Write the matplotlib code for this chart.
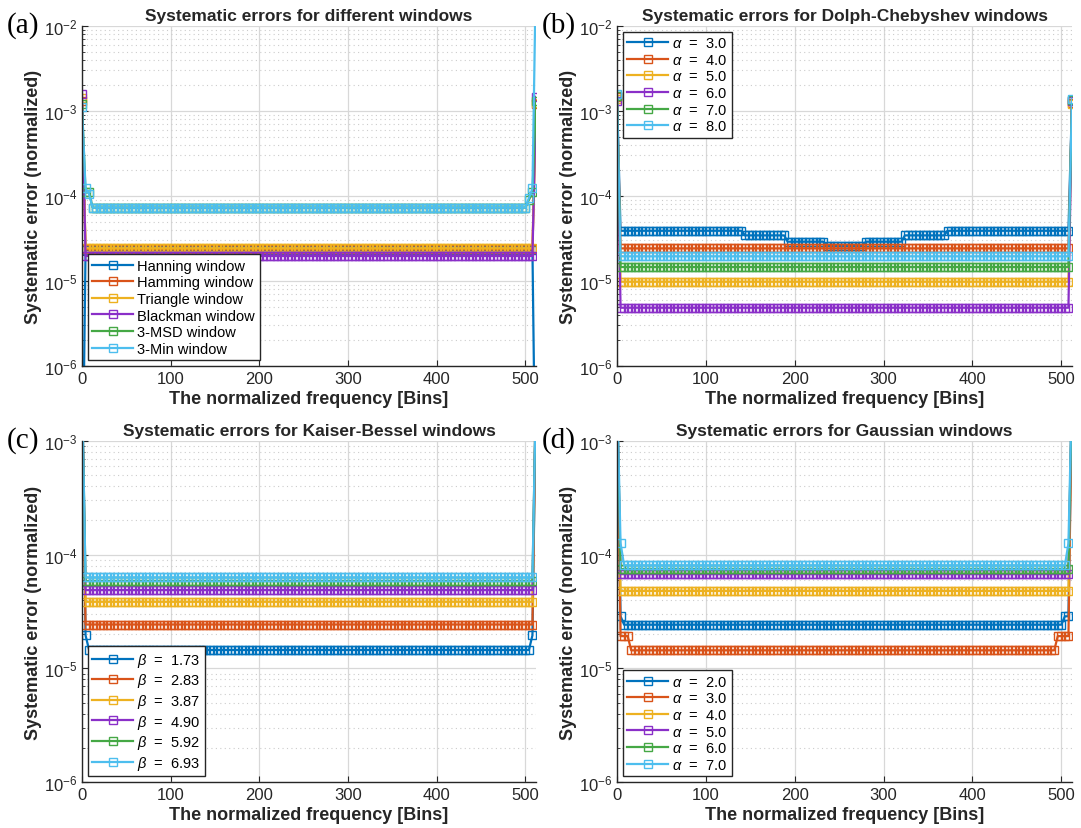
import numpy as np
import matplotlib
matplotlib.use('Agg')
import matplotlib.pyplot as plt
from matplotlib.ticker import LogLocator, NullFormatter

plt.rcParams['font.family'] = ['Liberation Sans', 'DejaVu Sans']
plt.rcParams['mathtext.fontset'] = 'custom'
plt.rcParams['mathtext.rm'] = 'Liberation Sans'
plt.rcParams['mathtext.it'] = 'Liberation Sans:italic'

# frequency bins (sampled every 4 bins)
bins = np.arange(0, 513, 4)

# each series: list of (start bin, value), value holds until next start
a_labels = ['Hanning window', 'Hamming window', 'Triangle window',
            'Blackman window', '3-MSD window', '3-Min window']
a_hanning = [(0, 1e-8), (4, 2.3e-5), (512, 1e-8)]
a_hamming = [(0, 1.3e-3), (4, 2.35e-5), (512, 1.2e-3)]
a_triangle = [(0, 1.43e-3), (4, 2.42e-5), (512, 1.25e-3)]
a_blackman = [(0, 1.6e-3), (4, 1.97e-5), (512, 1.47e-3)]
a_msd = [(0, 1.2e-3), (4, 1.1e-4), (12, 7.3e-5), (504, 9e-5), (508, 1.1e-4), (512, 1.3e-3)]
a_min = [(0, 1.11e-3), (4, 1.23e-4), (8, 1.05e-4), (12, 7.3e-5), (504, 9.5e-5), (508, 1.23e-4), (512, 5e-2)]

b_labels = [r'$\alpha$  =  3.0', r'$\alpha$  =  4.0', r'$\alpha$  =  5.0',
            r'$\alpha$  =  6.0', r'$\alpha$  =  7.0', r'$\alpha$  =  8.0']
b_a3 = [(0, 1.5e-3), (4, 3.9e-5), (144, 3.44e-5), (192, 2.9e-5), (236, 2.57e-5),
        (280, 2.9e-5), (324, 3.44e-5), (372, 3.9e-5), (512, 1.3e-3)]
b_a4 = [(0, 1.45e-3), (4, 2.42e-5), (512, 1.25e-3)]
b_a5 = [(0, 1.4e-3), (4, 9.8e-6), (512, 1.2e-3)]
b_a6 = [(0, 1.3e-3), (4, 4.85e-6), (512, 1.3e-3)]
b_a7 = [(0, 1.5e-3), (4, 1.46e-5), (512, 1.35e-3)]
b_a8 = [(0, 1.6e-3), (4, 1.95e-5), (512, 1.4e-3)]

c_labels = [r'$\beta$  =  1.73', r'$\beta$  =  2.83', r'$\beta$  =  3.87',
            r'$\beta$  =  4.90', r'$\beta$  =  5.92', r'$\beta$  =  6.93']
c_b1 = [(0, 3e-3), (4, 1.95e-5), (8, 1.45e-5), (508, 1.95e-5), (512, 3e-3)]
c_b2 = [(0, 3e-3), (4, 2.43e-5), (512, 3e-3)]
c_b3 = [(0, 3e-3), (4, 3.85e-5), (512, 3e-3)]
c_b4 = [(0, 3e-3), (4, 4.88e-5), (512, 3e-3)]
c_b5 = [(0, 3e-3), (4, 5.86e-5), (512, 3e-3)]
c_b6 = [(0, 3e-3), (4, 6.3e-5), (512, 3e-3)]

d_labels = [r'$\alpha$  =  2.0', r'$\alpha$  =  3.0', r'$\alpha$  =  4.0',
            r'$\alpha$  =  5.0', r'$\alpha$  =  6.0', r'$\alpha$  =  7.0']
d_a2 = [(0, 3e-3), (4, 2.87e-5), (8, 2.42e-5), (504, 2.87e-5), (512, 3e-3)]
d_a3 = [(0, 3e-3), (4, 1.92e-5), (16, 1.44e-5), (496, 1.92e-5), (512, 3e-3)]
d_a4 = [(0, 3e-3), (4, 4.8e-5), (512, 3e-3)]
d_a5 = [(0, 3e-3), (4, 6.74e-5), (512, 3e-3)]
d_a6 = [(0, 3e-3), (4, 7.47e-5), (512, 3e-3)]
d_a7 = [(0, 3e-3), (4, 1.26e-4), (8, 8.05e-5), (508, 1.26e-4), (512, 3e-3)]

colors = ['#0072BD', '#D95319', '#EDB120', '#8A2FC8', '#45A845', '#4DBEEE']


def expand(segs):
    vals = np.empty(len(bins))
    for i, b in enumerate(bins):
        for start, v in segs:
            if b >= start:
                vals[i] = v
    return vals


panels = [
    ('(a)', 'Systematic errors for different windows', a_labels,
     [a_hanning, a_hamming, a_triangle, a_blackman, a_msd, a_min], (1e-6, 1e-2), 'lower left'),
    ('(b)', 'Systematic errors for Dolph-Chebyshev windows', b_labels,
     [b_a3, b_a4, b_a5, b_a6, b_a7, b_a8], (1e-6, 1e-2), 'upper left'),
    ('(c)', 'Systematic errors for Kaiser-Bessel windows', c_labels,
     [c_b1, c_b2, c_b3, c_b4, c_b5, c_b6], (1e-6, 1e-3), 'lower left'),
    ('(d)', 'Systematic errors for Gaussian windows', d_labels,
     [d_a2, d_a3, d_a4, d_a5, d_a6, d_a7], (1e-6, 1e-3), 'lower left'),
]

W, H = 1081, 829
boxes = [(82, 27, 536, 367), (617, 27, 1072, 367),
         (82, 442, 536, 783), (617, 442, 1072, 783)]

fig = plt.figure(figsize=(W / 100, H / 100), dpi=100)

for (tag, title, labels, series, ylim, loc), (x0, y0, x1, y1) in zip(panels, boxes):
    ax = fig.add_axes([x0 / W, 1 - y1 / H, (x1 - x0) / W, (y1 - y0) / H])
    for lab, segs, c in zip(labels, series, colors):
        ax.plot(bins, expand(segs), '-s', color=c, lw=1.6, ms=5.3,
                mfc='none', mew=1.0, label=lab)
    ax.set_yscale('log')
    ax.set_ylim(*ylim)
    ax.set_xlim(0, 512)
    ax.set_xticks([0, 100, 200, 300, 400, 500])
    ax.yaxis.set_major_locator(LogLocator(base=10, numticks=10))
    ax.yaxis.set_minor_locator(LogLocator(base=10, subs=np.arange(2, 10), numticks=20))
    ax.yaxis.set_minor_formatter(NullFormatter())
    ax.grid(which='major', color='#d8d8d8', lw=0.9)
    ax.grid(which='minor', axis='y', color='#cccccc', lw=0.8, ls=(0, (1, 3)))
    ax.set_axisbelow(True)
    for s in ['top', 'right']:
        ax.spines[s].set_visible(False)
    for s in ['left', 'bottom']:
        ax.spines[s].set_color('#262626')
        ax.spines[s].set_linewidth(1.0)
    ax.tick_params(which='both', direction='in', top=False, right=False,
                   colors='#262626', labelsize=12)
    ax.tick_params(which='major', length=4)
    ax.tick_params(which='minor', length=2.5)
    ax.set_title(title, fontsize=12.5, fontweight='bold', color='#262626', pad=4)
    ax.set_xlabel('The normalized frequency [Bins]', fontsize=13,
                  fontweight='bold', color='#262626', labelpad=3)
    ax.set_ylabel('Systematic error (normalized)', fontsize=13,
                  fontweight='bold', color='#262626', labelpad=1)
    leg = ax.legend(loc=loc, fontsize=10.5, frameon=True, fancybox=False,
                    edgecolor='#262626', framealpha=1, borderpad=0.3,
                    labelspacing=0.18, handlelength=2.8, handletextpad=0.3,
                    borderaxespad=0.4, numpoints=1)
    leg.get_frame().set_linewidth(1.0)
    fig.text((x0 - 75) / W, 1 - (y0 - 1) / H, tag, family='Liberation Serif',
             fontsize=21, va='center', ha='left')

fig.savefig('out.png', dpi=100)
